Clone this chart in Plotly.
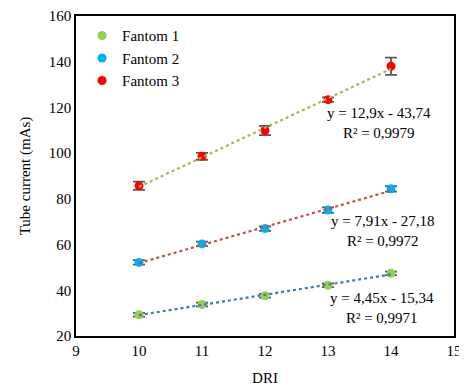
import plotly.graph_objects as go
import numpy as np

dri = [10, 11, 12, 13, 14]
names = ["Fantom 1", "Fantom 2", "Fantom 3"]
fantom1 = [29.3, 33.8, 37.6, 42.2, 47.4]
fantom2 = [52.2, 60.3, 67.0, 75.1, 84.4]
fantom3 = [85.7, 98.6, 109.9, 123.4, 138.0]
err1 = [0.8, 0.8, 0.8, 0.8, 0.8]
err2 = [1.0, 1.0, 1.0, 1.2, 1.2]
err3 = [1.8, 1.5, 2.0, 1.0, 3.8]
slopes = [4.45, 7.91, 12.9]
intercepts = [-15.34, -27.18, -43.74]
r2 = ["0,9971", "0,9972", "0,9979"]
eq_text = ["y = 4,45x - 15,34", "y = 7,91x - 27,18", "y = 12,9x - 43,74"]

series = [fantom1, fantom2, fantom3]
errors = [err1, err2, err3]
marker_colors = ["#92D050", "#00B0F0", "#FF0000"]
trend_colors = ["#4472C4", "#C0504D", "#9BBB59"]

FONT = "Liberation Serif, Times New Roman, serif"

fig = go.Figure()
for i in range(3):
    fig.add_trace(go.Scatter(
        x=dri, y=series[i], mode="markers", name=names[i],
        marker=dict(color=marker_colors[i], size=9),
        error_y=dict(type="data", array=errors[i], visible=True,
                     color="#595959", thickness=1.8, width=6),
    ))
for i in range(3):
    xs = np.array([dri[0], dri[-1]], dtype=float)
    ys = slopes[i] * xs + intercepts[i]
    fig.add_trace(go.Scatter(
        x=xs, y=ys, mode="lines", showlegend=False, hoverinfo="skip",
        line=dict(color=trend_colors[i], width=2.2, dash="dot"),
    ))

lab_pos = [(13.86, 32.4), (13.86, 65.9), (13.81, 113.0)]
for i in range(3):
    fig.add_annotation(x=lab_pos[i][0], y=lab_pos[i][1], xref="x", yref="y",
                       text=eq_text[i] + "<br>R² = " + r2[i], showarrow=False,
                       align="center", font=dict(family=FONT, size=15, color="#000000"))

fig.update_layout(
    width=459, height=384,
    margin=dict(l=68, r=13, t=8, b=56),
    paper_bgcolor="white", plot_bgcolor="white",
    font=dict(family=FONT, size=15, color="#000000"),
    showlegend=True,
    legend=dict(x=0.016, y=0.99, xanchor="left", yanchor="top",
                bgcolor="rgba(0,0,0,0)", font=dict(family=FONT, size=15),
                itemwidth=30, tracegroupgap=0),
    xaxis=dict(range=[9, 15], dtick=1, showgrid=False, zeroline=False,
               showline=True, linecolor="#000000", linewidth=1.5, mirror=True,
               ticks="", automargin=False, ticklabeloverflow="allow",
               title=dict(text="DRI", font=dict(family=FONT, size=15)),
               tickfont=dict(family=FONT, size=15)),
    yaxis=dict(range=[20, 160], dtick=20, showgrid=False, zeroline=False,
               showline=True, linecolor="#000000", linewidth=1.5, mirror=True,
               ticks="", automargin=False, ticklabeloverflow="allow",
               title=dict(text="Tube current (mAs)", font=dict(family=FONT, size=15)),
               tickfont=dict(family=FONT, size=15)),
)
fig.write_html("out.html")
